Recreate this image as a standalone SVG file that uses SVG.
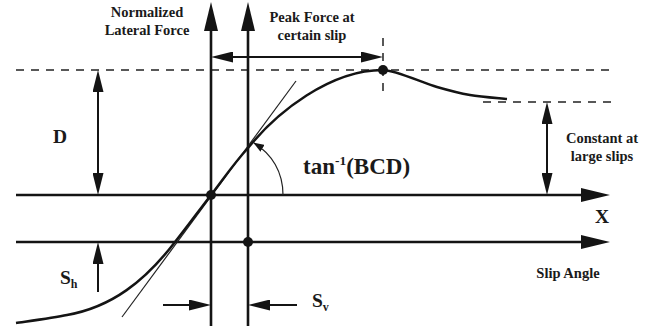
<svg xmlns="http://www.w3.org/2000/svg" width="665" height="326" viewBox="0 0 665 326">
<style>
.t{font-family:"Liberation Serif","Times New Roman",serif;font-weight:bold;fill:#1a1a1a}
.ax{stroke:#141414;stroke-width:2.6;fill:none}
.dim{stroke:#141414;stroke-width:2;fill:none}
.dash{stroke:#222;stroke-width:1.5;stroke-dasharray:8 7;fill:none}
.thin{stroke:#222;stroke-width:1.2;fill:none}
.curve{stroke:#141414;stroke-width:2.5;fill:none}
</style>
<defs>
<marker id="big" markerUnits="userSpaceOnUse" markerWidth="29" markerHeight="14" refX="19" refY="7" orient="auto-start-reverse"><path d="M0,0 L29,7 L0,14 z" fill="#141414"/></marker>
<marker id="sm" markerUnits="userSpaceOnUse" markerWidth="22" markerHeight="11" refX="14" refY="5.5" orient="auto-start-reverse"><path d="M0,0 L22,5.5 L0,11 z" fill="#141414"/></marker>
<marker id="tiny" markerUnits="userSpaceOnUse" markerWidth="11" markerHeight="8" refX="10" refY="4" orient="auto"><path d="M0,0 L11,4 L0,8 z" fill="#141414"/></marker>
</defs>
<g id="connectors">
<line class="dash" x1="16" y1="70" x2="612" y2="70"/>
<line class="dash" x1="483" y1="102" x2="612" y2="102"/>
<line class="dash" x1="383" y1="38" x2="383" y2="96"/>
<line class="ax" x1="211" y1="326" x2="211" y2="12" marker-end="url(#big)"/>
<line class="ax" x1="248" y1="326" x2="248" y2="12" marker-end="url(#big)"/>
<line class="ax" x1="16" y1="195" x2="600" y2="195" marker-end="url(#big)"/>
<line class="ax" x1="16" y1="242" x2="600" y2="242" marker-end="url(#big)"/>
<line class="dim" x1="98" y1="78" x2="98" y2="187" marker-start="url(#sm)" marker-end="url(#sm)"/>
<line class="dim" x1="98" y1="292" x2="98" y2="250" marker-end="url(#sm)"/>
<line class="dim" x1="163" y1="305" x2="203" y2="305" marker-end="url(#sm)"/>
<line class="dim" x1="297" y1="305" x2="256" y2="305" marker-end="url(#sm)"/>
<line class="dim" x1="219" y1="57" x2="375" y2="57" marker-start="url(#sm)" marker-end="url(#sm)"/>
<line class="dim" x1="547" y1="110" x2="547" y2="187" marker-start="url(#sm)" marker-end="url(#sm)"/>
<line class="thin" x1="122" y1="317" x2="296" y2="81"/>
<path class="thin" d="M283,195 C283,172 272,154 254,143" marker-end="url(#tiny)"/>
</g>
<g id="curve">
<path class="curve" d="M16,323 C24.5,321.7 53,318 67,315 C112,307 145,281 175,242 C186.8,227.3 198.8,210.7 211,195 C223.2,179.3 233.2,164.2 248,148 C277,112 330,70 383,70 C395,70 422.5,82.8 437,87 C451.5,91.2 458.3,93 470,95 C481.7,97 500.8,98.3 507,99"/>
</g>
<g id="dots" fill="#141414">
<circle cx="211" cy="195" r="5"/>
<circle cx="248" cy="242" r="5"/>
<circle cx="383" cy="70" r="5"/>
</g>
<g id="label-normalized"><text class="t" font-size="14.5" text-anchor="middle" x="147" y="17">Normalized</text><text class="t" font-size="14.5" text-anchor="middle" x="147" y="35">Lateral Force</text></g>
<g id="label-peak"><text class="t" font-size="14.5" text-anchor="middle" x="312" y="22">Peak Force at</text><text class="t" font-size="14.5" text-anchor="middle" x="312" y="40">certain slip</text></g>
<g id="label-constant"><text class="t" font-size="14.5" text-anchor="middle" x="602" y="143">Constant at</text><text class="t" font-size="14.5" text-anchor="middle" x="602" y="161">large slips</text></g>
<g id="label-slip"><text class="t" font-size="14.5" text-anchor="middle" x="568" y="278">Slip Angle</text></g>
<g id="label-x"><text class="t" font-size="19.5" x="595" y="223">X</text></g>
<g id="label-d"><text class="t" font-size="19.5" x="53" y="143">D</text></g>
<g id="label-tan"><text class="t" font-size="23" x="303" y="174">tan<tspan font-size="13.5" dy="-9">-1</tspan><tspan dy="9">(BCD)</tspan></text></g>
<g id="label-sh"><text class="t" font-size="19.5" x="60" y="284">S<tspan font-size="12" dy="4">h</tspan></text></g>
<g id="label-sv"><text class="t" font-size="19.5" x="312" y="307">S<tspan font-size="12" dy="4">v</tspan></text></g>
</svg>
